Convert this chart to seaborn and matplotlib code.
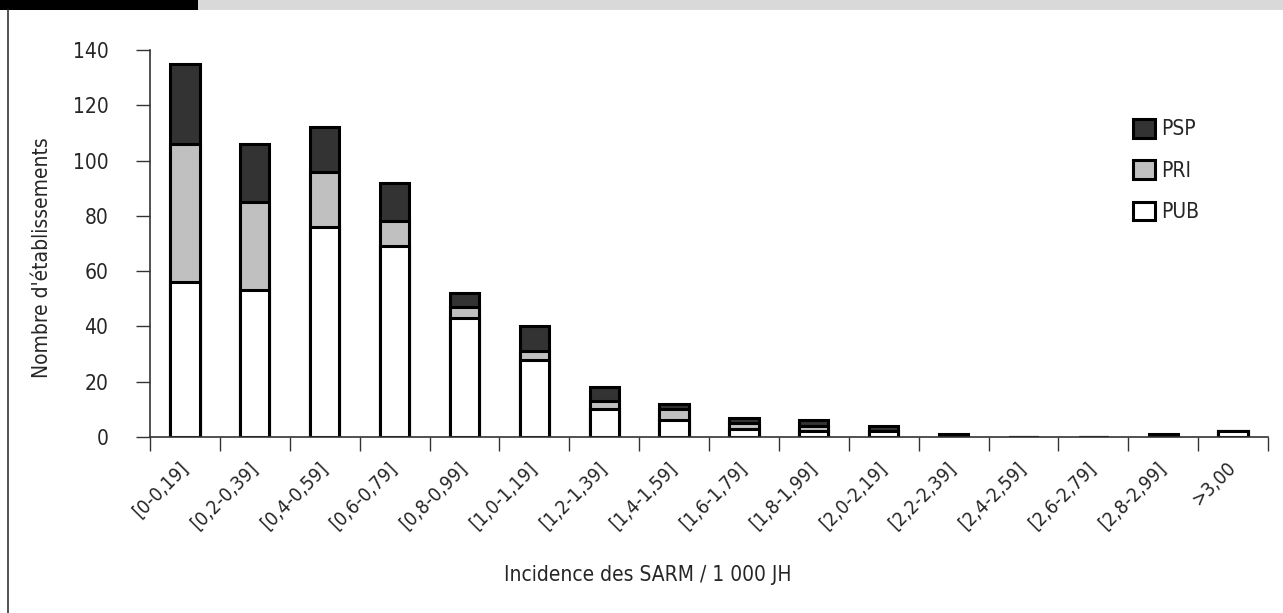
import matplotlib
matplotlib.use("Agg")
import matplotlib.pyplot as plt
from matplotlib import font_manager
from matplotlib.patches import Patch, Rectangle
from matplotlib.lines import Line2D
from matplotlib.transforms import ScaledTranslation
import seaborn as sns
import pandas as pd

# Data
categories = ['[0-0,19]', '[0,2-0,39]', '[0,4-0,59]', '[0,6-0,79]', '[0,8-0,99]',
              '[1,0-1,19]', '[1,2-1,39]', '[1,4-1,59]', '[1,6-1,79]', '[1,8-1,99]',
              '[2,0-2,19]', '[2,2-2,39]', '[2,4-2,59]', '[2,6-2,79]', '[2,8-2,99]', '>3,00']
pub = [56, 53, 76, 69, 43, 28, 10, 6, 3, 2, 2, 0, 0, 0, 0, 2]
pri = [50, 32, 20, 9, 4, 3, 3, 4, 2, 2, 0, 0, 0, 0, 0, 0]
psp = [29, 21, 16, 14, 5, 9, 5, 2, 2, 2, 2, 1, 0, 0, 1, 0]

colors = {'PSP': '#333333', 'PRI': '#c0c0c0', 'PUB': '#ffffff'}

sns.set_style('ticks')
names = {f.name for f in font_manager.fontManager.ttflist}
if 'Liberation Sans Narrow' in names:
    plt.rcParams['font.family'] = ['Liberation Sans Narrow', 'DejaVu Sans']
else:
    plt.rcParams['font.family'] = ['DejaVu Sans']
    plt.rcParams['font.stretch'] = 'condensed'

df = pd.DataFrame({'cat': categories, 'PUB': pub, 'PRI': pri, 'PSP': psp})
df['pub_pri'] = df['PUB'] + df['PRI']
df['total'] = df['pub_pri'] + df['PSP']

fig = plt.figure(figsize=(12.83, 6.13), dpi=100)
ax = fig.add_axes([150 / 1283, 1 - 437 / 613, 1118 / 1283, 387 / 613])

# stacked bars: draw cumulative totals back to front
bar_kw = dict(width=0.42, edgecolor='black', linewidth=2.2, ax=ax)
sns.barplot(data=df, x='cat', y='total', color=colors['PSP'], saturation=1, **bar_kw)
sns.barplot(data=df, x='cat', y='pub_pri', color=colors['PRI'], saturation=1, **bar_kw)
sns.barplot(data=df, x='cat', y='PUB', color=colors['PUB'], saturation=1, **bar_kw)

ax.set_xlim(-0.5, len(categories) - 0.5)
ax.set_ylim(0, 140)
ax.set_yticks(range(0, 141, 20))
ax.set_xticks([i - 0.5 for i in range(len(categories) + 1)], minor=False)
ax.set_xticklabels([])
ax.set_xticks(range(len(categories)), minor=True)
ax.set_xticklabels(categories, minor=True, rotation=45, ha='right', va='center',
                   rotation_mode='anchor', fontsize=14)
shift = ScaledTranslation(-8 / 100, 0, fig.dpi_scale_trans)
for lab in ax.get_xticklabels(minor=True):
    lab.set_transform(lab.get_transform() + shift)
ax.tick_params(axis='x', which='minor', length=0, pad=20)
ax.tick_params(axis='x', which='major', length=10, width=1, color='#333333', direction='out')
ax.tick_params(axis='y', length=10, width=1, color='#333333', direction='out', pad=20, labelsize=15)
ax.set_xlabel('')
ax.set_ylabel('')
sns.despine(ax=ax)
for s in ['left', 'bottom']:
    ax.spines[s].set_color('#333333')
    ax.spines[s].set_linewidth(1.2)

fig.text(42 / 1283, 1 - 258 / 613, "Nombre d'établissements", rotation=90,
         ha='center', va='center', fontsize=15)
fig.text(504 / 1283, 1 - 575 / 613, 'Incidence des SARM / 1 000 JH',
         ha='left', va='center', fontsize=15)

handles = [Patch(facecolor=colors[k], edgecolor='black', linewidth=2.2) for k in ['PSP', 'PRI', 'PUB']]
fig.legend(handles, ['PSP', 'PRI', 'PUB'], loc='upper left',
           bbox_to_anchor=(1133 / 1283, 1 - 119 / 613), frameon=False, fontsize=15,
           handlelength=1.05, handleheight=1.0, handletextpad=0.3, labelspacing=1.0,
           borderpad=0, borderaxespad=0)

# header band and left frame line
fig.patches.append(Rectangle((0, 1 - 10 / 613), 198 / 1283, 10 / 613, transform=fig.transFigure,
                             facecolor='black', edgecolor='none'))
fig.patches.append(Rectangle((198 / 1283, 1 - 10 / 613), 1 - 198 / 1283, 10 / 613,
                             transform=fig.transFigure, facecolor='#d9d9d9', edgecolor='none'))
fig.lines.append(Line2D([8 / 1283, 8 / 1283], [0, 1 - 10 / 613], transform=fig.transFigure,
                        color='#333333', linewidth=1.2))

fig.savefig('out.png', dpi=100)
